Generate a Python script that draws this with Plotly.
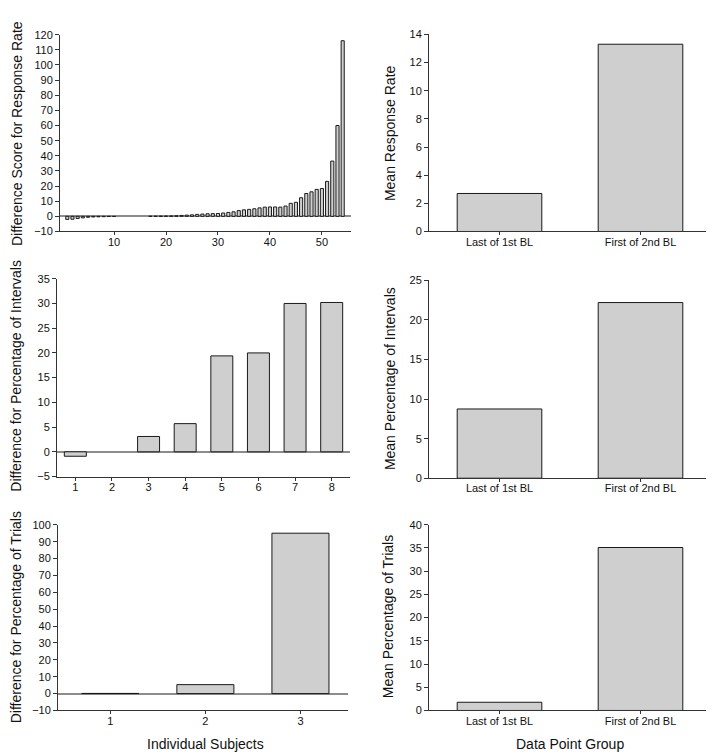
import plotly.graph_objects as go

# ---------------- data ----------------
rate_subjects = list(range(1, 55))
rate_diff = [-2.0, -1.9, -1.4, -1.0, -0.6, -0.4, -0.3, -0.2, -0.1, -0.1,
             0.0, 0.0, 0.0, 0.0, 0.0, 0.0, 0.05, 0.1, 0.15, 0.2,
             0.25, 0.4, 0.6, 0.8, 1.0, 1.3, 1.5, 1.7, 1.8, 1.9,
             2.2, 2.6, 3.0, 3.8, 4.3, 4.6, 5.0, 5.6, 6.1, 6.2,
             6.2, 6.1, 6.8, 8.6, 9.3, 12.3, 15.1, 16.2, 17.8, 18.4,
             23.1, 36.5, 60.0, 116.0]

groups = ["Last of 1st BL", "First of 2nd BL"]
mean_rate = [2.7, 13.3]

interval_subjects = [1, 2, 3, 4, 5, 6, 7, 8]
interval_diff = [-0.9, 0.0, 3.1, 5.7, 19.4, 20.0, 30.0, 30.2]
mean_interval = [8.75, 22.2]

trial_subjects = [1, 2, 3]
trial_diff = [0.1, 5.3, 95.0]
mean_trial = [1.77, 35.1]

# ---------------- styling ----------------
W, H = 714, 756
FILL = "#cfcfcf"
EDGE = "#1a1a1a"
AXIS = "#333333"
FONT = "Liberation Sans, Arial, sans-serif"

def px_x(a, b):
    return [a / W, b / W]

def px_y(top, bottom):
    return [1 - bottom / H, 1 - top / H]

fig = go.Figure()

def add_bar(x, y, xa, ya, width):
    # zero-height bars draw no outline
    lw = [0 if v == 0 else 1 for v in y]
    fig.add_trace(go.Bar(
        x=x, y=y, xaxis=xa, yaxis=ya, width=width,
        marker=dict(color=FILL, line=dict(color=EDGE, width=lw)),
        showlegend=False, hoverinfo="x+y"))

add_bar(rate_subjects, rate_diff, "x", "y", 0.6)
add_bar(groups, mean_rate, "x2", "y2", 0.6)
add_bar(interval_subjects, interval_diff, "x3", "y3", 0.6)
add_bar(groups, mean_interval, "x4", "y4", 0.6)
add_bar(trial_subjects, trial_diff, "x5", "y5", 0.6)
add_bar(groups, mean_trial, "x6", "y6", 0.6)

tickfont = dict(family=FONT, size=11, color="#111111")

def xax(domain, anchor, **kw):
    d = dict(domain=domain, anchor=anchor, showline=True, linecolor=AXIS,
             linewidth=1, ticks="outside", ticklen=3, tickcolor=AXIS,
             showgrid=False, zeroline=False, tickfont=tickfont,
             ticklabelstandoff=-3)
    d.update(kw)
    return d

def yax(domain, anchor, rng, dtick, zero, **kw):
    d = dict(domain=domain, anchor=anchor, range=rng, dtick=dtick,
             showline=True, linecolor=AXIS, linewidth=1, ticks="outside",
             ticklen=4, tickcolor=AXIS, showgrid=False,
             zeroline=zero, zerolinecolor="#8c8c8c", zerolinewidth=1.5,
             tickfont=tickfont)
    d.update(kw)
    return d

R_x = px_x(421, 703)

fig.update_layout(
    width=W, height=H,
    margin=dict(l=0, r=0, t=0, b=0),
    paper_bgcolor="white", plot_bgcolor="white",
    bargap=0.4,
    font=dict(family=FONT, color="#111111"),
    xaxis=xax(px_x(52, 343), "y", range=[-0.4, 55.6],
              tickmode="array", tickvals=[10, 20, 30, 40, 50]),
    yaxis=yax(px_y(21, 221), "x", [-10, 120], 10, True),
    xaxis2=xax(R_x, "y2", range=[-0.5, 1.5], type="category"),
    yaxis2=yax(px_y(20.7, 221), "x2", [0, 14], 2, False),
    xaxis3=xax(px_x(49, 342), "y3", range=[0.5, 8.5],
               tickmode="array", tickvals=interval_subjects),
    yaxis3=yax(px_y(269, 470), "x3", [-5, 35], 5, True),
    xaxis4=xax(R_x, "y4", range=[-0.5, 1.5], type="category"),
    yaxis4=yax(px_y(270.7, 471.7), "x4", [0, 25], 5, False),
    xaxis5=xax(px_x(50, 340), "y5", range=[0.45, 3.5],
               tickmode="array", tickvals=trial_subjects),
    yaxis5=yax(px_y(519, 707.7), "x5", [-10, 100], 10, True),
    xaxis6=xax(R_x, "y6", range=[-0.5, 1.5], type="category"),
    yaxis6=yax(px_y(519, 707.7), "x6", [0, 40], 5, False),
)

titlefont = dict(family=FONT, size=14, color="#111111")

def ytitle(text, xpx, ycenter_px):
    fig.add_annotation(text=text, x=xpx / W, y=1 - ycenter_px / H,
                       xref="paper", yref="paper", textangle=-90,
                       showarrow=False, xanchor="center", yanchor="middle",
                       font=titlefont, borderpad=0)

ytitle("Difference Score for Response Rate", 9, 122)
ytitle("Mean Response Rate", 382, 121)
ytitle("Difference for Percentage of Intervals", 8.5, 368)
ytitle("Mean Percentage of Intervals", 382, 371)
ytitle("Difference for Percentage of Trials", 8, 613)
ytitle("Mean Percentage of Trials", 380, 613)

def xtitle(text, xpx, ypx):
    fig.add_annotation(text=text, x=xpx / W, y=1 - ypx / H,
                       xref="paper", yref="paper", showarrow=False,
                       xanchor="center", yanchor="middle", font=titlefont)

xtitle("Individual Subjects", 197, 742)
xtitle("Data Point Group", 562, 742)

fig.write_html("out.html")
